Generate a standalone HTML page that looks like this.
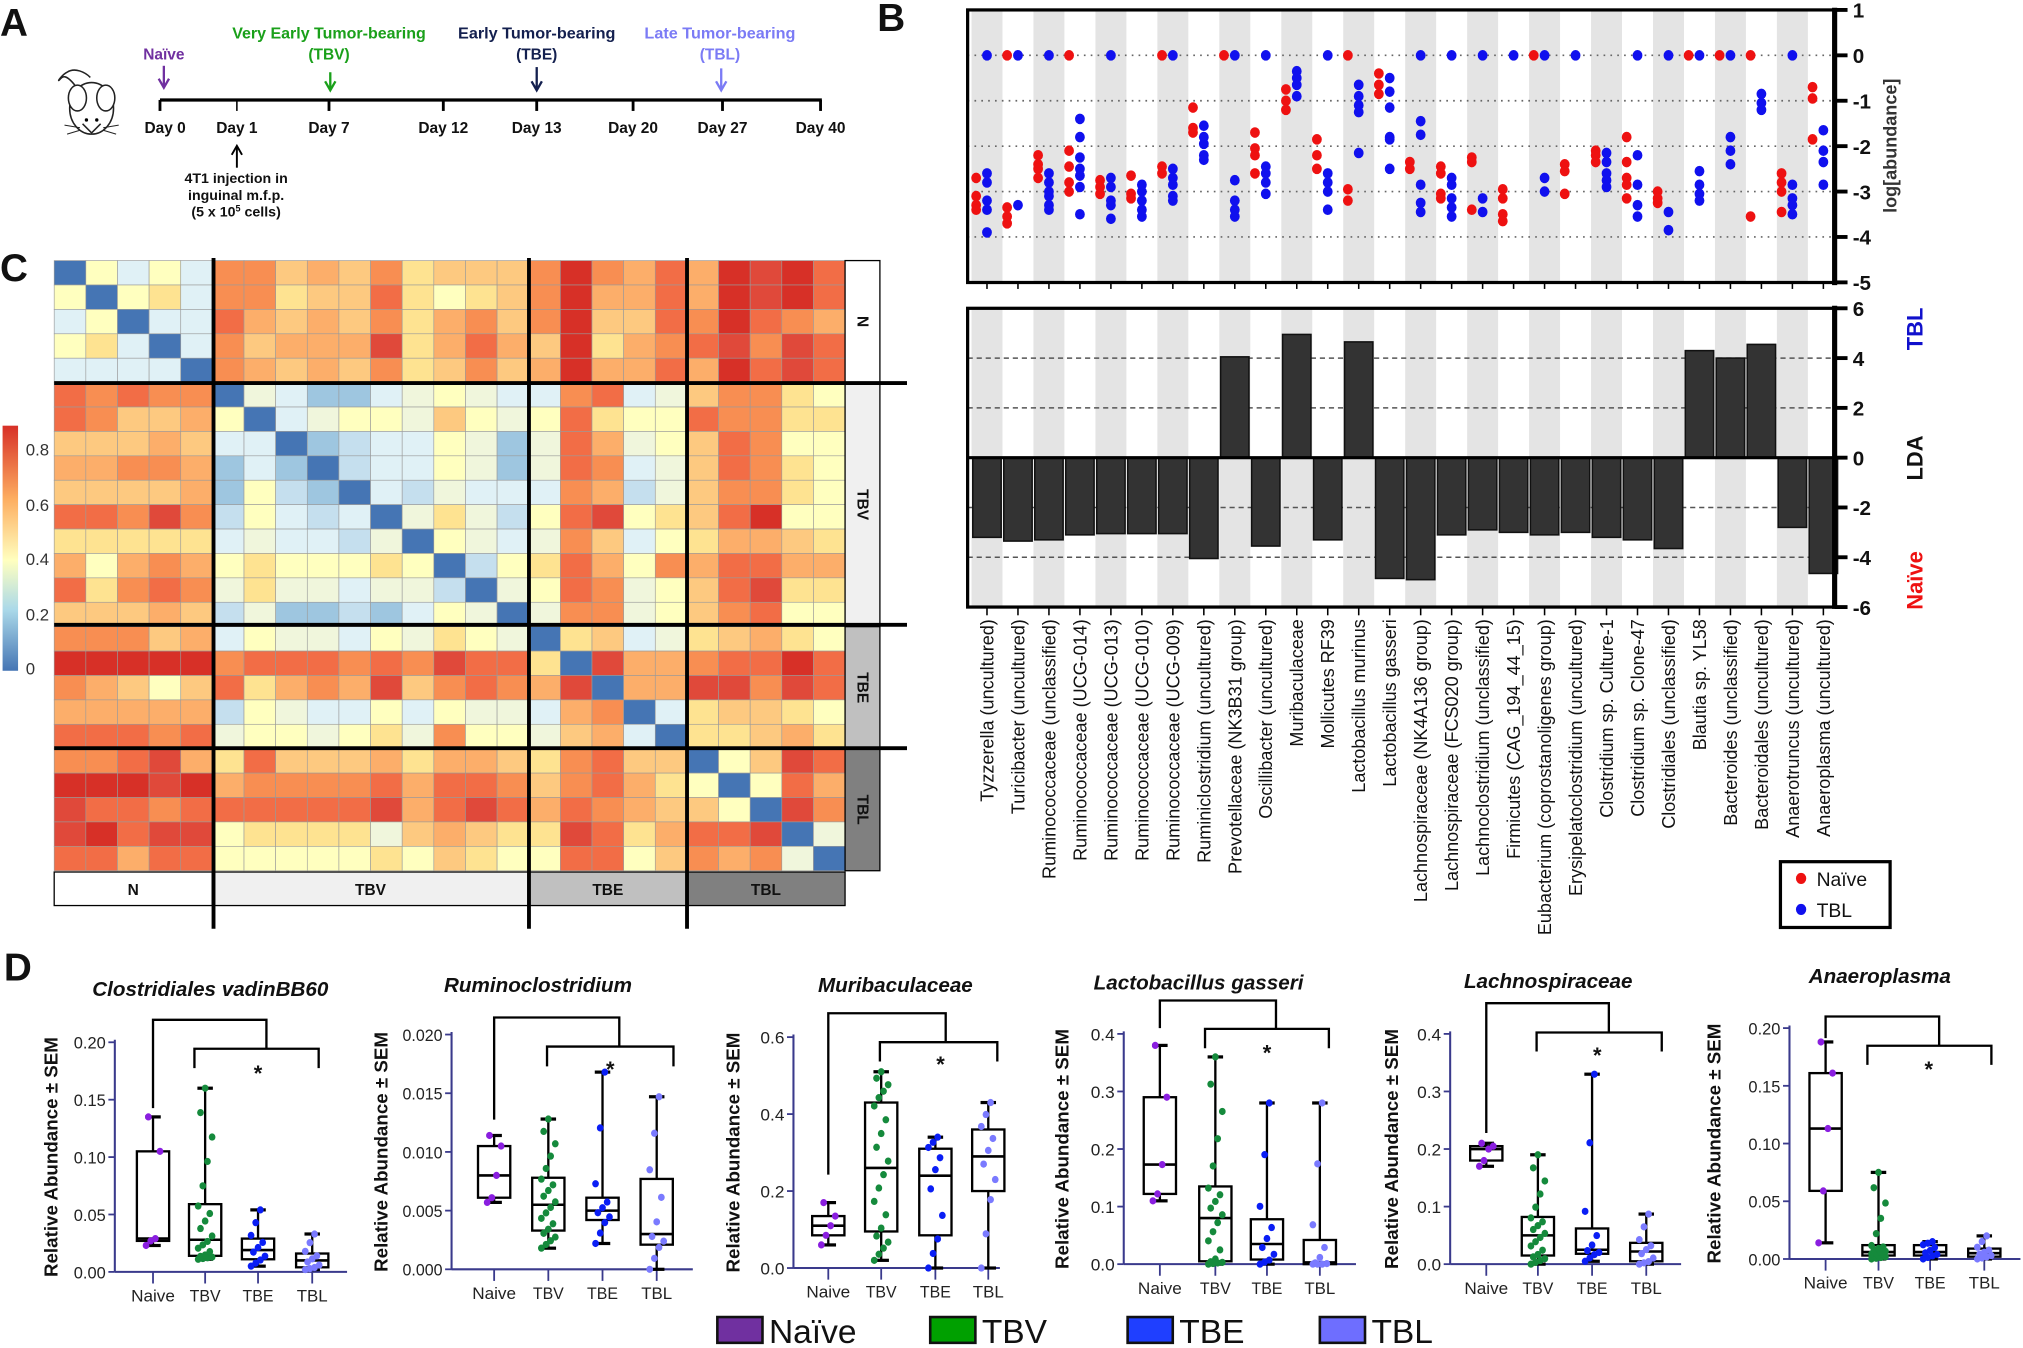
<!DOCTYPE html>
<html><head><meta charset="utf-8">
<style>
html,body{margin:0;padding:0;background:#fff;}
svg{display:block;}
text{font-family:"Liberation Sans",Arial,sans-serif;}
</style></head>
<body>
<svg id="s" width="2023" height="1348" viewBox="0 0 1568 1045" preserveAspectRatio="none" xmlns="http://www.w3.org/2000/svg">
<defs>
<linearGradient id="cg" x1="0" y1="1" x2="0" y2="0">
<stop offset="0" stop-color="#4575b4"/>
<stop offset="0.25" stop-color="#abd9e9"/>
<stop offset="0.45" stop-color="#ffffbf"/>
<stop offset="0.7" stop-color="#fdae61"/>
<stop offset="1" stop-color="#d73027"/>
</linearGradient>
<marker id="ah" viewBox="0 0 10 10" refX="5" refY="9" markerWidth="5" markerHeight="5" orient="auto-start-reverse"><path d="M0,0 L5,10 L10,0" fill="none" stroke="context-stroke" stroke-width="2"/></marker>
</defs>
<g id="g"></g>
</svg>
<script>
var h='';
function T(x,y,s,o){o=o||{};h+='<text x="'+x+'" y="'+y+'" font-size="'+(o.fs||12)+'" fill="'+(o.c||'#111')+'" text-anchor="'+(o.a||'start')+'" font-weight="'+(o.w||'normal')+'"'+(o.st?' font-style="'+o.st+'"':'')+(o.tl?' textLength="'+o.tl+'" lengthAdjust="spacingAndGlyphs"':'')+(o.tr?' transform="'+o.tr+'"':'')+'>'+s+'</text>';}
function RT(x,y,s,o){o=o||{};var tr='translate('+x+','+y+') rotate('+(o.r||-90)+')';h+='<text x="0" y="0" transform="'+tr+'" font-size="'+(o.fs||12)+'" fill="'+(o.c||'#111')+'" text-anchor="'+(o.a||'middle')+'" font-weight="'+(o.w||'normal')+'"'+(o.tl?' textLength="'+o.tl+'" lengthAdjust="spacingAndGlyphs"':'')+'>'+s+'</text>';}
function L(x1,y1,x2,y2,c,w,d){h+='<line x1="'+x1+'" y1="'+y1+'" x2="'+x2+'" y2="'+y2+'" stroke="'+(c||'#000')+'" stroke-width="'+(w||1)+'"'+(d?' stroke-dasharray="'+d+'"':'')+'/>';}
function R(x,y,w,hh,f,s,sw){h+='<rect x="'+x+'" y="'+y+'" width="'+w+'" height="'+hh+'" fill="'+(f||'none')+'"'+(s?' stroke="'+s+'" stroke-width="'+(sw||1)+'"':'')+'/>';}
function C(x,y,r,f){h+='<ellipse cx="'+x+'" cy="'+y+'" rx="'+r+'" ry="'+(r*1.08)+'" fill="'+f+'"/>';}

/* ---------- Panel labels ---------- */
T(0,28,'A',{fs:30,w:'bold'});T(680,24,'B',{fs:30,w:'bold'});T(0,218,'C',{fs:30,w:'bold'});T(3,760,'D',{fs:30,w:'bold'});

/* ---------- Panel A ---------- */
// mouse
h+='<g fill="#fff" stroke="#222" stroke-width="1.2"><path d="M58,66 C50,56 48,60 46,62 C44,64 48,58 52,56 C58,52 66,56 70,60"/><ellipse cx="71" cy="84" rx="17" ry="20"/><ellipse cx="60" cy="76" rx="7" ry="10"/><ellipse cx="82" cy="76" rx="7" ry="10"/><path d="M64,96 L71,103 L78,96"/></g>';
h+='<g stroke="#222" stroke-width="0.8"><line x1="62" y1="99" x2="50" y2="97"/><line x1="62" y1="101" x2="52" y2="104"/><line x1="80" y1="99" x2="92" y2="97"/><line x1="80" y1="101" x2="90" y2="104"/></g><circle cx="67" cy="93" r="1.3" fill="#000"/><circle cx="75" cy="93" r="1.3" fill="#000"/>';
L(124,77.5,637,77.5,'#000',2.5);
var days=[[124,'Day 0'],[183.6,'Day 1'],[255,'Day 7'],[343.6,'Day 12'],[416,'Day 13'],[490.7,'Day 20'],[560,'Day 27'],[636,'Day 40']];
days.forEach(function(d,i){L(d[0],77.5,d[0],86,'#000',i==1?1.2:2.2);T(d[0]+(i==0?4:0),103,d[1],{fs:12,w:'bold',a:'middle'});});
function arrow(x,y1,y2,c){L(x,y1,x,y2,c,1.8);h+='<polyline points="'+(x-4)+','+(y2-7)+' '+x+','+y2+' '+(x+4)+','+(y2-7)+'" fill="none" stroke="'+c+'" stroke-width="1.8"/>';}
T(127,46,'Naïve',{fs:12,w:'bold',a:'middle',c:'#7030a0'});arrow(127,51,68,'#7030a0');
T(255,30,'Very Early Tumor-bearing',{fs:12,w:'bold',a:'middle',c:'#1aa01a',tl:150});T(255,46,'(TBV)',{fs:12,w:'bold',a:'middle',c:'#1aa01a'});arrow(256,56,70,'#1aa01a');
T(416,30,'Early Tumor-bearing',{fs:12,w:'bold',a:'middle',c:'#14204f',tl:122});T(416,46,'(TBE)',{fs:12,w:'bold',a:'middle',c:'#14204f'});arrow(416,52,70,'#14204f');
T(558,30,'Late Tumor-bearing',{fs:12,w:'bold',a:'middle',c:'#7b7bf5',tl:117});T(558,46,'(TBL)',{fs:12,w:'bold',a:'middle',c:'#7b7bf5'});arrow(559,53,70,'#7b7bf5');
L(183.6,130,183.6,114,'#000',1.5);h+='<polyline points="179.6,120 183.6,113 187.6,120" fill="none" stroke="#000" stroke-width="1.5"/>';
T(183,142,'4T1 injection in',{fs:11,w:'bold',a:'middle'});T(183,155,'inguinal m.f.p.',{fs:11,w:'bold',a:'middle'});T(183,168,'(5 x 10<tspan font-size="7" dy="-4">5</tspan><tspan dy="4"> cells)</tspan>',{fs:11,w:'bold',a:'middle'});

/* ---------- Panel C heatmap ---------- */
var pal=['#4575b4','#9ec6e0','#c5dfee','#e0f1f6','#f0f6dc','#ffffbf','#fee391','#fdc980','#fcae6a','#f88e52','#f26d46','#e0493a','#d73027'];
var M=[
[0,5,3,5,3,9,9,7,8,7,9,6,7,7,7,9,12,9,8,10,8,12,11,12,10],
[5,0,5,6,3,9,9,6,7,7,10,6,5,6,7,9,12,8,8,10,8,12,11,12,10],
[3,5,0,3,3,10,8,7,8,7,9,6,8,9,7,9,12,7,7,10,9,12,10,9,8],
[5,6,3,0,3,9,7,8,8,8,11,6,8,10,8,7,12,6,8,9,10,11,9,11,10],
[3,3,3,3,0,9,8,7,8,7,9,6,7,9,7,8,12,8,8,10,8,12,10,11,10],
[10,9,10,9,9,0,4,3,1,1,3,4,5,4,3,3,9,10,3,4,7,9,9,6,5],
[10,9,7,7,8,5,0,3,4,5,5,4,7,5,4,5,10,6,5,5,10,9,9,6,6],
[7,7,7,8,7,3,3,0,1,2,3,3,5,4,1,4,10,8,4,5,7,10,9,5,5],
[8,8,9,9,8,1,3,1,0,2,3,3,5,4,1,4,10,9,3,4,7,10,9,6,5],
[7,7,7,7,8,1,5,2,1,0,3,2,4,3,3,3,9,8,2,4,7,9,9,6,5],
[10,10,9,11,9,2,5,3,2,3,0,4,6,4,2,5,10,11,5,6,7,10,12,5,5],
[6,6,6,6,6,3,4,3,3,2,4,0,5,4,3,4,9,7,3,5,6,8,8,7,6],
[8,5,8,9,8,5,6,5,5,5,6,5,0,2,5,6,10,8,5,9,8,10,10,8,8],
[10,6,9,10,9,4,6,4,4,3,4,4,2,0,4,5,10,9,4,5,7,10,11,6,6],
[7,7,7,8,7,2,4,1,1,2,1,3,5,4,0,4,9,9,4,5,7,9,10,5,5],
[9,9,9,7,8,3,5,4,4,3,5,4,6,5,4,0,6,7,3,4,6,7,8,6,5],
[12,12,12,12,12,9,10,10,10,9,10,9,11,10,10,6,0,11,8,8,9,10,10,12,10],
[9,8,7,5,7,10,6,8,9,8,11,7,9,10,9,8,11,0,8,8,11,11,9,11,10],
[8,8,8,8,8,2,5,4,3,3,5,3,5,4,4,3,8,9,0,3,6,7,7,6,5],
[10,10,10,9,10,4,5,5,4,5,6,4,9,5,5,4,7,8,3,0,6,6,7,8,6],
[9,9,10,11,8,6,10,7,7,7,8,6,8,8,7,6,9,10,7,7,0,5,7,11,10],
[12,12,12,11,12,8,9,9,9,9,10,8,10,10,9,7,9,10,8,6,5,0,5,10,8],
[11,10,10,9,10,10,10,10,10,10,11,8,10,11,10,8,10,9,8,7,7,5,0,11,9],
[11,12,10,11,11,5,6,6,6,6,4,7,8,7,6,6,11,10,6,8,10,10,11,0,4],
[10,10,8,10,10,5,5,5,5,5,6,5,7,6,5,5,10,10,5,7,9,8,9,4,0]];
var hx=42,hy=202,cw=613/25,ch=473/25;
for(var r=0;r<25;r++)for(var c=0;c<25;c++){R((hx+c*cw).toFixed(2),(hy+r*ch).toFixed(2),(cw+0.05).toFixed(2),(ch+0.05).toFixed(2),pal[M[r][c]],'#9a9a9a',0.5);}
// annotations
var grp=[[0,5,'#ffffff','N'],[5,15,'#f0f0f0','TBV'],[15,20,'#c0c0c0','TBE'],[20,25,'#808080','TBL']];
grp.forEach(function(g){R(655,hy+g[0]*ch,27,(g[1]-g[0])*ch,g[2],'#000',1);RT(668.5,hy+(g[0]+g[1])/2*ch,g[3],{r:90,fs:12,w:'bold'});h=h.replace(/(<text x="0" y="0" transform="translate\([^)]*\) rotate\(90\)")(?![^>]*dy)/,'$1 dy="4"');
R(hx+g[0]*cw,676,(g[1]-g[0])*cw,26,g[2],'#000',1);T(hx+(g[0]+g[1])/2*cw,694,g[3],{fs:12,w:'bold',a:'middle'});});
// separators
[165.5,410,532.5].forEach(function(x){L(x,200,x,720,'#000',3);});
[297,484.4,580].forEach(function(y){L(42,y,703,y,'#000',3);});
// colorbar
R(2,330,12,190,'url(#cg)');
[[348,'0.8'],[391,'0.6'],[433,'0.4'],[476,'0.2'],[518,'0']].forEach(function(t){T(20,t[0]+5,t[1],{fs:13,c:'#333'});});

/* ---------- Panel B ---------- */
function cx(i){return 765+24.01*i;}
function yT(v){return 7.7+(1-v)*35.2;}
function yL(v){return 239+(6-v)*19.3;}
for(var i=0;i<28;i+=2){R(cx(i)-12,7.7,24,211.3,'#e4e4e4');R(cx(i)-12,239,24,231.6,'#e4e4e4');}
[0,-1,-2,-3,-4].forEach(function(v){L(750,yT(v),1422,yT(v),'#666',1.3,'1.3,4');});
[4,2,-2,-4].forEach(function(v){L(750,yL(v),1422,yL(v),'#555',1.2,'4,3');});
var red=[[-2.7,-3.1,-3.3,-3.4],[0,-3.35,-3.55,-3.7],[-2.2,-2.4,-2.5,-2.7],[0,-2.1,-2.45,-2.8,-3.0],[-2.75,-2.9,-3.05],[-2.65,-3.05,-3.15],[0,-2.45,-2.6],[-1.15,-1.6,-1.7],[0],[-1.7,-2.05,-2.2,-2.6],[-0.75,-1.0,-1.2],[-1.85,-2.2,-2.5],[0,-2.95,-3.2],[-0.4,-0.65,-0.85],[-2.35,-2.5],[-2.45,-2.6,-3.05,-3.15],[-2.25,-2.35,-3.4],[-2.95,-3.15,-3.5,-3.65],[0],[-2.4,-2.55,-3.05],[-2.1,-2.2,-2.35],[-1.8,-2.35,-2.7,-2.85,-3.15],[-3.0,-3.15,-3.25],[0],[0],[0,-3.55],[-2.6,-2.8,-3.0,-3.45],[-0.7,-0.95,-1.85]];
var blue=[[0,-2.6,-2.8,-3.2,-3.4,-3.9],[0,-3.3],[0,-2.6,-2.8,-3.0,-3.1,-3.3,-3.4],[-1.4,-1.8,-2.25,-2.5,-2.65,-2.9,-3.5],[0,-2.7,-2.9,-3.2,-3.3,-3.6],[-2.85,-3.0,-3.2,-3.4,-3.55],[0,-2.5,-2.7,-2.85,-3.1,-3.2],[-1.55,-1.8,-1.95,-2.2,-2.3],[0,-2.75,-3.2,-3.4,-3.55],[0,-2.45,-2.6,-2.8,-3.05],[-0.35,-0.5,-0.65,-0.9],[0,-2.6,-2.8,-3.0,-3.4],[-0.65,-0.9,-1.1,-1.25,-2.15],[-0.5,-0.8,-1.15,-1.8,-1.85,-2.5],[0,-1.45,-1.75,-2.85,-3.25,-3.45],[0,-2.7,-2.85,-3.15,-3.35,-3.55],[0,-3.15,-3.45],[0],[0,-2.7,-3.0],[0],[-2.15,-2.35,-2.6,-2.75,-2.9],[0,-2.2,-2.85,-3.3,-3.55],[0,-3.45,-3.85],[0,-2.55,-2.85,-3.05,-3.2],[0,-1.8,-2.1,-2.4],[-0.85,-1.05,-1.2],[0,-2.85,-3.15,-3.3,-3.5],[-1.65,-2.1,-2.35,-2.85]];
for(var i=0;i<28;i++){red[i].forEach(function(v){C(cx(i)-8.4,yT(v),3.8,'#ee1111');});blue[i].forEach(function(v){C(cx(i),yT(v),3.8,'#1010ee');});}
R(750,7.7,672,211.3,'none','#000',2.5);L(1422,6,1422,221,'#000',4);
[1,0,-1,-2,-3,-4,-5].forEach(function(v){L(1422,yT(v),1432,yT(v),'#000',3);T(1436,yT(v)+6,(v<0?'-':'')+Math.abs(v),{fs:16,w:'bold'});});
for(var i=0;i<28;i++){L(cx(i),219,cx(i),224,'#000',1.2);}
RT(1470,113,'log[abundance]',{fs:14,w:'bold',c:'#333'});
// LDA
var lda=[-3.2,-3.35,-3.3,-3.1,-3.05,-3.05,-3.05,-4.05,4.05,-3.55,4.95,-3.3,4.65,-4.85,-4.9,-3.1,-2.9,-3.0,-3.1,-3.0,-3.2,-3.3,-3.65,4.3,4.0,4.55,-2.8,-4.65];
lda.forEach(function(v,i){var y1=Math.min(yL(0),yL(v)),hh=Math.abs(yL(v)-yL(0));R(cx(i)-11,y1,22,hh,'#333','#111',1.2);});
L(750,yL(0),1422,yL(0),'#000',2.5);
R(750,239,672,231.6,'none','#000',2.5);L(1422,237,1422,472,'#000',4);
[6,4,2,0,-2,-4,-6].forEach(function(v){L(1422,yL(v),1432,yL(v),'#000',3);T(1436,yL(v)+6,(v<0?'-':'')+Math.abs(v),{fs:16,w:'bold'});});
for(var i=0;i<28;i++){L(cx(i),470,cx(i),477,'#000',1.2);}
RT(1490,355,'LDA',{fs:17,w:'bold'});RT(1490,255,'TBL',{fs:17,w:'bold',c:'#1010cc'});RT(1490,450,'Naïve',{fs:17,w:'bold',c:'#ee1111'});
var names=['Tyzzerella (uncultured)','Turicibacter (uncultured)','Ruminococcaceae (unclassified)','Ruminococcaceae (UCG-014)','Ruminococcaceae (UCG-013)','Ruminococcaceae (UCG-010)','Ruminococcaceae (UCG-009)','Ruminiclostridium (uncultured)','Prevotellaceae (NK3B31 group)','Oscillibacter (uncultured)','Muribaculaceae','Mollicutes RF39','Lactobacillus murinus','Lactobacillus gasseri','Lachnospiraceae (NK4A136 group)','Lachnospiraceae (FCS020 group)','Lachnoclostridium (unclassified)','Firmicutes (CAG_194_44_15)','Eubacterium (coprostanoligenes group)','Erysipelatoclostridium (uncultured)','Clostridium sp. Culture-1','Clostridium sp. Clone-47','Clostridiales (unclassified)','Blautia sp. YL58','Bacteroides (unclassified)','Bacteroidales (uncultured)','Anaerotruncus (uncultured)','Anaeroplasma (uncultured)'];
names.forEach(function(n,i){RT(cx(i)+5,480,n,{fs:14,a:'end',c:'#111'});});
R(1380,668,85,51,'#fff','#000',2.5);C(1396,681,4,'#ee1111');C(1396,705,4,'#1010ee');T(1408,687,'Naïve',{fs:15});T(1408,711,'TBL',{fs:15});

/* ---------- Panel D ---------- */
var gc=['#8a1ee0','#158a3c','#0a1ef5','#7a7aff'],gn=[5,20,10,10];
var P=[
{ax:89,y0:986,yt:808,vm:.2,tk:[0,.05,.1,.15,.2],dec:2,cats:[118.6,159,200,242],xe:269,ti:'Clostridiales vadinBB60',tx:163,ty:772,yl:39.5,
 ob:[790.6,118.6,206.5,859],ib:[813,150.7,247,828],st:[200,838],
 bx:[[.023,.027,.029,.105,.135],[.011,.014,.028,.059,.16],[.005,.011,.019,.029,.054],[.002,.004,.01,.016,.033]]},
{ax:350,y0:984,yt:802,vm:.02,tk:[0,.005,.01,.015,.02],dec:3,cats:[383,425,467,509],xe:537,ti:'Ruminoclostridium',tx:417,ty:769,yl:295.4,
 ob:[788.8,383,480,868],ib:[811.3,424,522,826.7],st:[473,835],
 bx:[[.0057,.0061,.008,.0105,.0114],[.0018,.0033,.0055,.0078,.0128],[.0022,.0042,.005,.0061,.0168],[0,.0021,.003,.0077,.0147]]},
{ax:615,y0:983,yt:804,vm:.6,tk:[0,.2,.4,.6],dec:1,cats:[642,683,725,766],xe:775,ti:'Muribaculaceae',tx:694,ty:769,yl:568,
 ob:[785.5,642,733,910.6],ib:[807.9,682,773,822.9],st:[729,831],
 bx:[[.06,.085,.11,.135,.17],[.02,.095,.26,.43,.51],[0,.085,.24,.31,.34],[0,.2,.29,.36,.43]]},
{ax:871,y0:980,yt:801.5,vm:.4,tk:[0,.1,.2,.3,.4],dec:1,cats:[899,942,982,1023],xe:1051,ti:'Lactobacillus gasseri',tx:929,ty:767,yl:823,
 ob:[775.6,899,989,797],ib:[797.6,934,1030,812.6],st:[982,822],
 bx:[[.11,.122,.173,.29,.38],[0,.005,.08,.135,.36],[0,.008,.035,.078,.28],[0,0,.003,.042,.28]]},
{ax:1124,y0:980,yt:801.5,vm:.4,tk:[0,.1,.2,.3,.4],dec:1,cats:[1152,1192,1234,1276],xe:1303,ti:'Lachnospiraceae',tx:1200,ty:766,yl:1078.4,
 ob:[777.7,1152,1247,878.3],ib:[800.4,1191,1288,815.1],st:[1238,824],
 bx:[[.17,.18,.2,.205,.21],[0,.015,.05,.082,.19],[.005,.018,.025,.062,.33],[0,.005,.022,.037,.087]]},
{ax:1387,y0:976,yt:797,vm:.2,tk:[0,.05,.1,.15,.2],dec:2,cats:[1415,1456,1496,1538],xe:1566,ti:'Anaeroplasma',tx:1457,ty:762,yl:1328.6,
 ob:[788,1415,1503,804.8],ib:[810.7,1447.4,1543.5,825.5],st:[1495,835],
 bx:[[.014,.059,.113,.161,.188],[0,.003,.006,.012,.075],[0,.003,.006,.012,.015],[0,.002,.005,.009,.02]]}];
var ax='#3a3a8c';
P.forEach(function(p){
 function Y(v){return p.y0-(v/p.vm)*(p.y0-p.yt);}
 T(p.tx,p.ty,p.ti,{fs:16,w:'bold',st:'italic',a:'middle'});
 L(p.ax,p.yt-2,p.ax,p.y0,ax,1.6);L(p.ax,p.y0,p.xe,p.y0,ax,1.6);
 p.tk.forEach(function(v){L(p.ax-5,Y(v),p.ax,Y(v),ax,1.4);T(p.ax-7,Y(v)+5,v.toFixed(p.dec),{fs:13,a:'end',c:'#222',tl:(p.dec+2)*6.2});});
 ['Naive','TBV','TBE','TBL'].forEach(function(n,k){L(p.cats[k],p.y0,p.cats[k],p.y0+9,ax,1.4);T(p.cats[k],p.y0+23,n,{fs:13,a:'middle',c:'#222',tl:n=='Naive'?34:24});});
 RT(p.yl+5,(p.y0+p.yt)/2,'Relative Abundance ± SEM',{fs:14,w:'bold',tl:186});
 // brackets
 var o=p.ob,b=p.ib;
 h+='<polyline points="'+o[1]+','+o[3]+' '+o[1]+','+o[0]+' '+o[2]+','+o[0]+' '+o[2]+','+b[0]+'" fill="none" stroke="#000" stroke-width="1.8"/>';
 h+='<polyline points="'+b[1]+','+b[3]+' '+b[1]+','+b[0]+' '+b[2]+','+b[0]+' '+b[2]+','+b[3]+'" fill="none" stroke="#000" stroke-width="1.8"/>';
 T(p.st[0],p.st[1],'*',{fs:17,w:'bold',a:'middle'});
 p.bx.forEach(function(q,k){var x=p.cats[k],w=12.5;
  L(x,Y(q[0]),x,Y(q[4]),'#000',1.8);L(x-6,Y(q[0]),x+6,Y(q[0]),'#000',2.5);L(x-6,Y(q[4]),x+6,Y(q[4]),'#000',2.5);
  R(x-w,Y(q[3]),2*w,Math.max(1,Y(q[1])-Y(q[3])),'#fff','#000',1.8);L(x-w,Y(q[2]),x+w,Y(q[2]),'#000',2);
  var n=gn[k];for(var j=0;j<n;j++){var pp=j/(n-1)*4,s=Math.min(3,Math.floor(pp)),f=pp-s,v=q[s]+(q[s+1]-q[s])*f;var jx=((j*37)%7-3)*1.8;C(x+jx,Y(v),2.6,gc[k]);}
 });
});
// legend
[[556,'#7030a0','Naïve'],[721,'#00a000','TBV'],[874,'#1f3fff','TBE'],[1023,'#6e6eff','TBL']].forEach(function(l){R(l[0],1021,35,20,l[1],'#111',2);T(l[0]+40,1041,l[2],{fs:26});});

document.getElementById('g').innerHTML=h;
</script>
</body></html>
